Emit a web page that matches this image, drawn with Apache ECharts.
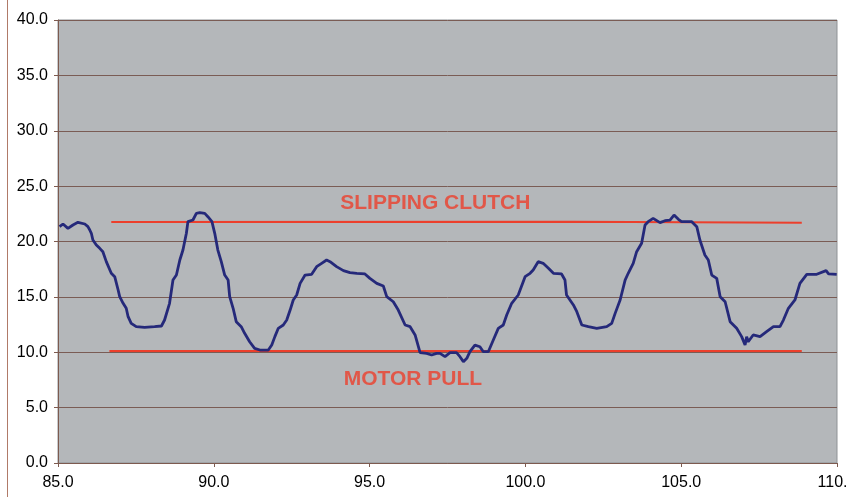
<!DOCTYPE html>
<html><head><meta charset="utf-8">
<script src="https://cdn.jsdelivr.net/npm/echarts@6/dist/echarts.min.js"></script>
<style>html,body{margin:0;padding:0;background:#fff}#c{width:848px;height:497px}</style>
</head><body><div id="c"></div>
<script>
const xVals = [85.05,85.16,85.32,85.48,85.64,85.86,85.96,86.02,86.07,86.12,86.23,86.34,86.44,86.55,86.71,86.82,86.93,86.98,87.09,87.19,87.25,87.35,87.51,87.78,88.10,88.32,88.42,88.58,88.69,88.80,88.91,89.01,89.12,89.17,89.33,89.44,89.55,89.71,89.81,89.94,90.03,90.13,90.24,90.35,90.46,90.51,90.62,90.72,90.88,90.99,91.15,91.31,91.48,91.75,91.86,91.96,92.07,92.23,92.34,92.45,92.55,92.66,92.77,92.93,93.14,93.30,93.46,93.62,93.73,93.94,94.16,94.37,94.59,94.85,95.01,95.23,95.44,95.55,95.76,95.92,96.14,96.30,96.46,96.62,96.83,96.99,97.15,97.26,97.42,97.58,97.79,97.90,98.01,98.12,98.22,98.38,98.54,98.65,98.81,98.97,99.13,99.29,99.40,99.56,99.77,99.99,100.15,100.25,100.41,100.57,100.74,100.90,101.16,101.27,101.32,101.54,101.65,101.81,102.02,102.29,102.61,102.77,102.88,103.04,103.20,103.30,103.46,103.57,103.73,103.84,103.94,104.10,104.32,104.48,104.64,104.77,104.91,105.01,105.34,105.50,105.60,105.76,105.87,105.98,106.14,106.25,106.41,106.57,106.78,106.94,107.05,107.10,107.15,107.31,107.53,107.74,107.96,108.17,108.28,108.44,108.65,108.81,109.03,109.35,109.65,109.73,109.99];
const yVals = [21.34,21.58,21.19,21.49,21.73,21.58,21.34,21.04,20.74,20.14,19.68,19.38,19.08,18.18,17.13,16.82,15.62,15.02,14.42,13.97,13.21,12.61,12.31,12.25,12.31,12.37,12.91,14.42,16.52,16.97,18.33,19.23,20.74,21.79,21.94,22.54,22.60,22.54,22.24,21.79,20.74,19.23,18.18,16.97,16.52,15.02,13.97,12.76,12.31,11.71,10.95,10.35,10.20,10.20,10.65,11.41,12.16,12.46,12.91,13.81,14.72,15.17,16.22,16.97,17.04,17.73,18.03,18.33,18.18,17.73,17.37,17.19,17.13,17.07,16.67,16.22,15.98,15.02,14.56,13.81,12.46,12.31,11.56,9.96,9.90,9.75,9.90,9.90,9.60,9.96,9.96,9.60,9.15,9.45,10.05,10.65,10.50,10.05,10.05,11.11,12.16,12.46,13.36,14.42,15.17,16.82,17.13,17.43,18.18,18.03,17.58,17.13,17.07,16.52,15.17,14.27,13.66,12.46,12.31,12.16,12.31,12.61,13.51,14.72,16.52,17.13,18.03,19.08,19.84,21.49,21.79,22.09,21.70,21.88,21.94,22.39,22.00,21.79,21.79,21.34,20.14,18.78,18.33,16.97,16.67,15.02,14.56,12.76,12.16,11.41,10.65,11.41,10.95,11.56,11.41,11.86,12.31,12.31,12.91,13.97,14.72,16.22,17.04,17.04,17.37,17.07,17.04];
const clutchLine = [[86.71,21.76],[101.55,21.78],[101.56,21.7],[108.87,21.7]];
const motorLine = [[86.65,10.11],[108.87,10.11]];
const annotations = [[97.11,23.5,'SLIPPING CLUTCH'],[96.39,7.6,'MOTOR PULL']];
const xMin = 85, xMax = 110, xStep = 5;
const yMin = 0, yMax = 40, yStep = 5;

const chart = echarts.init(document.getElementById('c'), null, {renderer:'canvas'});
const brown = '#7d5a4f';
chart.setOption({
  animation:false,
  backgroundColor:'#ffffff',
  grid:{left:58,right:11,top:20,bottom:34,outerBoundsMode:'none',containLabel:false,show:true,backgroundColor:'#b4b7ba',borderColor:'#8f9296',borderWidth:1},
  xAxis:{type:'value',min:xMin,max:xMax,interval:xStep,
    axisLine:{show:true,onZero:false,lineStyle:{color:brown,width:1}},
    axisTick:{show:true,length:4,inside:false,lineStyle:{color:brown}},
    splitLine:{show:false},
    axisLabel:{color:'#000',fontFamily:'Liberation Sans, Arial',fontSize:16,margin:12,hideOverlap:false,formatter:v=>v.toFixed(1)}},
  yAxis:{type:'value',min:yMin,max:yMax,interval:yStep,
    axisLine:{show:true,lineStyle:{color:brown,width:1}},
    axisTick:{show:true,length:4,lineStyle:{color:brown}},
    splitLine:{show:true,lineStyle:{color:'#7a5c55',width:1}},
    axisLabel:{color:'#000',fontFamily:'Liberation Sans, Arial',fontSize:16,margin:10,formatter:v=>v.toFixed(1)}},
  graphic:[{type:'line',shape:{x1:7.5,y1:0,x2:7.5,y2:497},style:{stroke:'#b07a68',lineWidth:1}}],
  series:[
    {type:'line',data:clutchLine,symbol:'none',lineStyle:{color:'#ec3f2c',width:2},z:3},
    {type:'line',data:motorLine,symbol:'none',lineStyle:{color:'#ec3f2c',width:2},z:3},
    {type:'line',data:xVals.map((x,i)=>[x,yVals[i]]),symbol:'none',lineStyle:{color:'#25297a',width:2.8},z:4},
    {type:'scatter',symbolSize:0,z:5,
      data:annotations.map(a=>({value:[a[0],a[1]],name:a[2]})),
      label:{show:true,position:'inside',formatter:p=>p.name,color:'#ec3f2c',fontWeight:'bold',fontSize:21,fontFamily:'Liberation Sans, Arial'}}
  ]
});
</script></body></html>
